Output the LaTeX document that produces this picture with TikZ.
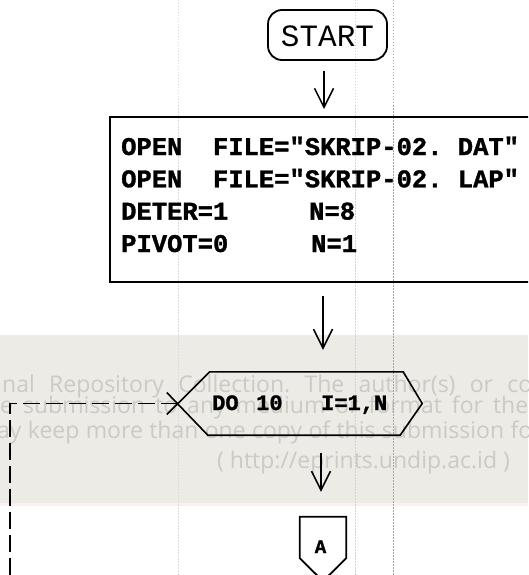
\documentclass[tikz,border=0pt]{standalone}
\usepackage{fontspec}
\newfontfamily\monofont{Liberation Mono}[BoldFeatures={FakeBold=1.3}]
\newfontfamily\wmfont{Open Sans}
\usetikzlibrary{arrows.meta,calc}
\definecolor{wmband}{RGB}{236,235,229}
\definecolor{wmpink}{RGB}{250,241,236}
\definecolor{wmtext}{RGB}{203,203,198}
\definecolor{guide}{RGB}{165,165,165}
\frenchspacing
\begin{document}
\begin{tikzpicture}[x=1pt,y=-1pt,
  wm/.style={font=\wmfont\fontsize{23}{23}\selectfont, text=wmtext, anchor=base west, inner sep=0pt},
  guideline/.style={draw=guide, line width=0.7pt, dash pattern=on 1.5pt off 1.5pt},
  boxtxt/.style={font=\monofont\bfseries\fontsize{25.5}{30}\selectfont, anchor=base west, inner sep=0pt},
  hextxt/.style={font=\monofont\bfseries\fontsize{22}{26}\selectfont, anchor=base west, inner sep=0pt},
  varrow/.style={line width=1.5pt, -{Straight Barb[length=19pt,width=19pt,line width=1.5pt]}},
  loopline/.style={line width=1.8pt, dash pattern=on 17pt off 6pt},
  shape line/.style={line width=1.8pt}]
\useasboundingbox (0,0) rectangle (528,575);
\clip (0,0) rectangle (528,575);
\fill[white] (0,0) rectangle (528,575);
% watermark band
\fill[wmband] (0,335) rectangle (528,503);
\fill[wmpink] (0,503) rectangle (528,506);
\node[wm] (wm1) at (2,392) {\makebox[530pt][s]{nal Repository Collection. The author(s) or co}};
\node[wm] (wm2) at (0,413.5) {\makebox[528pt][s]{e submission to any medium or format for the}};
\node[wm] (wm3) at (-3,438) {\makebox[535pt][s]{ay keep more than one copy of this submission fo}};
\node[wm] (wm4) at (217,468) {( http://eprints.undip.ac.id )};
% scan guide lines
\draw[guideline] (393,0) -- (393,575);
\draw[guideline, draw=guide!50] (355,0) -- (355,575);
\draw[guideline, draw=guide!40] (178,0) -- (178,575);
% START
\node[draw, shape line, rounded corners=14pt, minimum width=119pt, minimum height=50pt,
  inner sep=0pt, text height=23pt, text depth=0pt,
  font=\monofont\fontsize{31}{31}\selectfont] (start) at (327.5,35) {START};
% process box
\node[draw, line width=2pt, minimum width=460pt, minimum height=165pt, inner sep=0pt] (box) at (340,199.5) {};
\node[boxtxt] (t1a) at (121,155) {OPEN};
\node[boxtxt] (t1b) at (212.8,155) {FILE="SKRIP-02. DAT"};
\node[boxtxt] (t2a) at (121,187.3) {OPEN};
\node[boxtxt] (t2b) at (212.8,187.3) {FILE="SKRIP-02. LAP"};
\node[boxtxt] (t3a) at (121,219.6) {DETER=1};
\node[boxtxt] (t3b) at (309,219.6) {N=8};
\node[boxtxt] (t4a) at (121,252) {PIVOT=0};
\node[boxtxt] (t4b) at (311,252) {N=1};
% loop hexagon
\node[minimum width=244pt, minimum height=63pt, inner sep=0pt] (hex) at (300,403.5) {};
\coordinate (loopend) at (10,590);
\draw[loopline] (hex.west) -- (hex.west -| loopend) -- (loopend);
\draw[shape line, line width=1.6pt] ($(hex.west)+(-11,11)$) -- ($(hex.north west)+(32,0)$)
  -- ($(hex.north east)+(-19,0)$) -- (hex.east) -- ($(hex.south east)+(-22,0)$)
  -- ($(hex.south west)+(30,0)$) -- ($(hex.west)+(-11,-11)$);
\node[hextxt] (h1) at (212,410) {DO};
\node[hextxt] (h2) at (256,410) {10};
\node[hextxt] (h3) at (321,410) {I=1,N};
% off-page connector A
\node[minimum width=46pt, minimum height=41pt, inner sep=0pt] (conA) at (323,537.5) {};
\draw[shape line] (conA.south west) -- (conA.north west) -- (conA.north east) -- (conA.south east)
  -- ($(conA.south)+(0,23)$) -- cycle;
\node[font=\monofont\bfseries\fontsize{19}{19}\selectfont, inner sep=0pt, anchor=base] (Alab) at (320.5,553) {A};
% arrows
\draw[varrow] ($(start.south)+(-3.5,10)$) -- ($(start.south |- box.north)+(-3.5,-7)$);
\draw[varrow] ($(box.south -| start.south)+(-4.5,13)$) -- ($(hex.north -| start.south)+(-4.5,-22)$);
\draw[varrow] ($(hex.south -| start.south)+(-6.5,18)$) -- ($(conA.north)+(-2,-25)$);
\end{tikzpicture}
\end{document}
